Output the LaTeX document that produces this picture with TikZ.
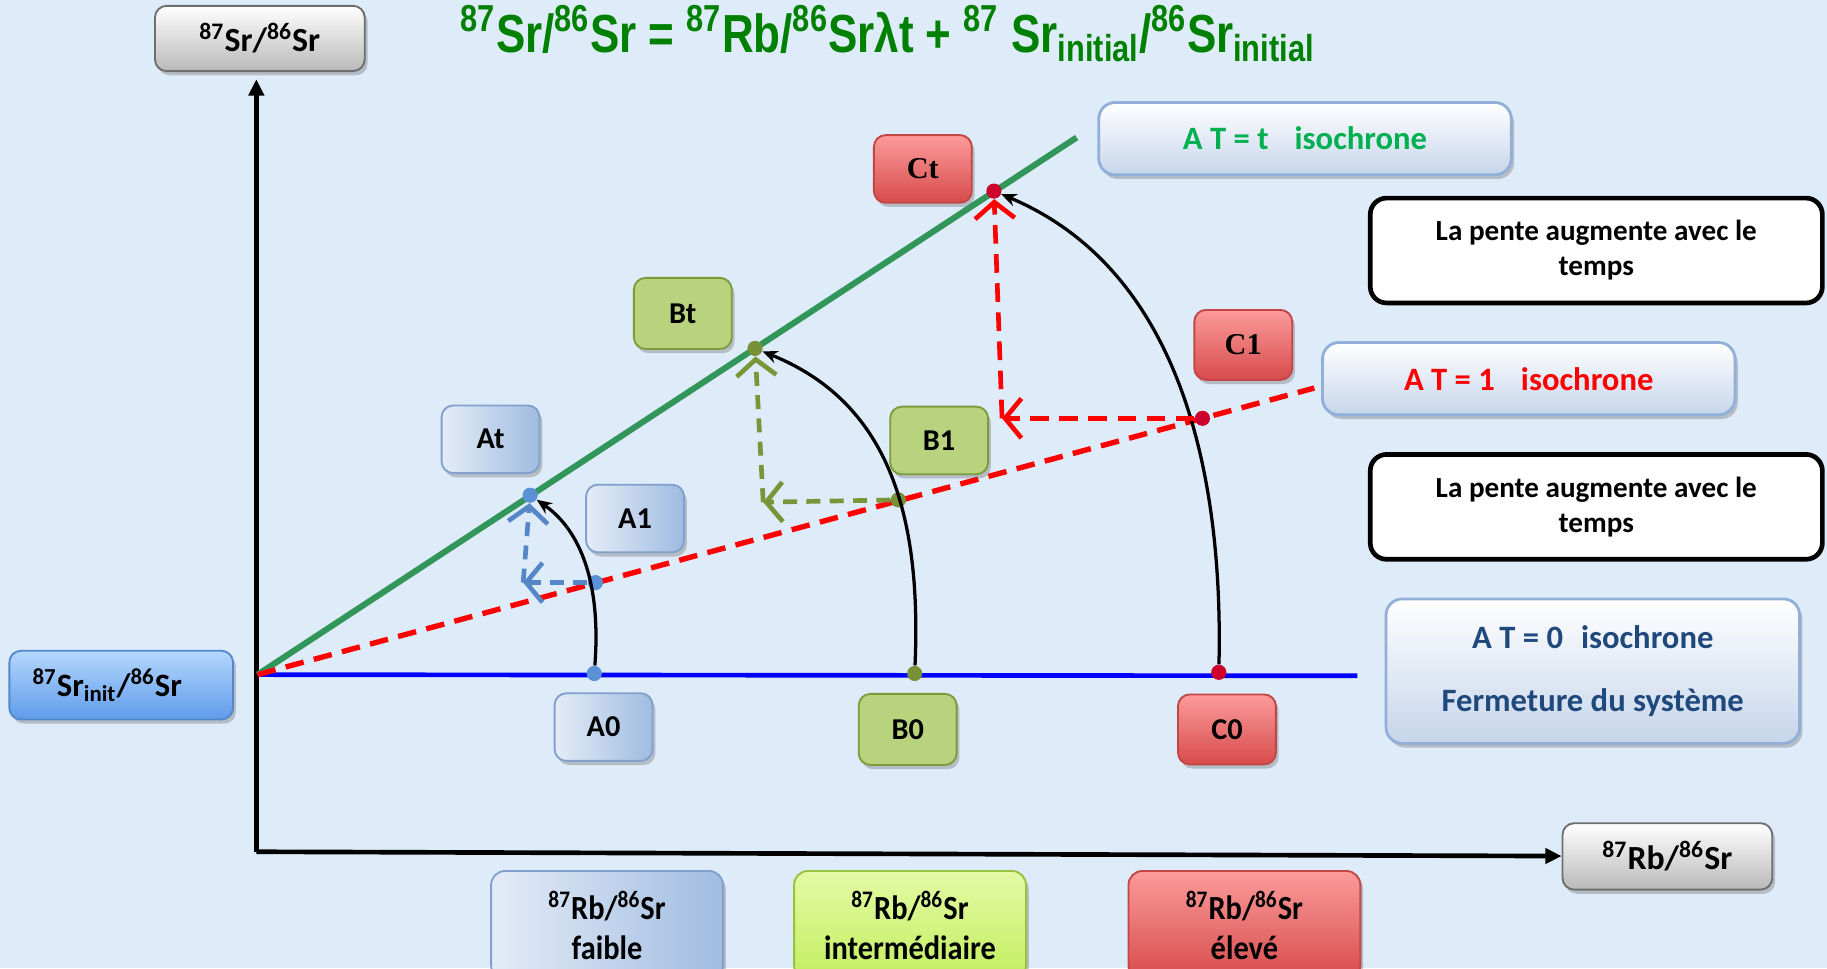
\documentclass[tikz,border=0pt]{standalone}
\usepackage{fontspec}
\setmainfont{Carlito}
\newfontfamily\titrefont[FakeStretch=0.82]{Liberation Sans}
\newfontfamily\etroitfont[FakeStretch=0.9]{Carlito}
\newfontfamily\seriffont{Liberation Serif}
\usepackage{xcolor}
\usetikzlibrary{arrows.meta,shadows}

% couleurs
\definecolor{fond}{RGB}{222,235,248}
\definecolor{grisbord}{RGB}{110,110,110}
\definecolor{grisbas}{RGB}{185,185,185}
\definecolor{bleubord}{RGB}{130,160,205}
\definecolor{bleuclair}{RGB}{228,236,247}
\definecolor{bleufonce}{RGB}{160,188,225}
\definecolor{sinithaut}{RGB}{180,215,252}
\definecolor{sinitbas}{RGB}{95,155,235}
\definecolor{sinitbord}{RGB}{85,135,205}
\definecolor{vertbord}{RGB}{125,155,60}
\definecolor{verthaut}{RGB}{185,210,125}
\definecolor{vertmilieu}{RGB}{155,188,90}
\definecolor{rougebord}{RGB}{195,70,70}
\definecolor{rougehaut}{RGB}{252,155,155}
\definecolor{rougebas}{RGB}{215,75,75}
\definecolor{limebord}{RGB}{150,195,60}
\definecolor{limehaut}{RGB}{228,250,165}
\definecolor{limebas}{RGB}{195,238,95}
\definecolor{isobord}{RGB}{145,175,215}
\definecolor{isobas}{RGB}{198,213,235}
\definecolor{titrevert}{RGB}{0,128,0}
\definecolor{isovert}{RGB}{0,176,80}
\definecolor{isobleu}{RGB}{31,73,125}
\definecolor{ligvert}{RGB}{50,150,90}
\definecolor{ligbleu}{RGB}{0,0,255}
\definecolor{ptbleu}{RGB}{90,145,215}
\definecolor{ptvert}{RGB}{120,145,55}
\definecolor{ptrouge}{RGB}{205,0,45}
\definecolor{projbleu}{RGB}{85,135,200}
\definecolor{projvert}{RGB}{120,150,55}

\begin{document}
\begin{tikzpicture}[x=0.5pt, y=-0.5pt,
        boite/.style={rounded corners=5pt, line width=0.8pt, align=center, inner sep=0pt,
                      font=\bfseries\fontsize{13}{15}\selectfont, minimum width=42pt, minimum height=29pt,
                      drop shadow={shadow xshift=1.2pt, shadow yshift=-1.8pt, fill=black!60, opacity=0.35}},
        grise/.style={boite, draw=grisbord, top color=white, bottom color=grisbas,
                      minimum width=90pt, minimum height=28pt, font=\bfseries\fontsize{14.5}{16}\selectfont},
        bleue/.style={boite, draw=bleubord, left color=bleuclair, right color=bleufonce},
        verte/.style={boite, draw=vertbord, top color=verthaut, middle color=vertmilieu, bottom color=verthaut},
        rouge/.style={boite, draw=rougebord, top color=rougehaut, bottom color=rougebas},
        rapport/.style={rounded corners=6pt, minimum width=99.5pt, minimum height=46.5pt,
                      font=\etroitfont\bfseries\fontsize{14.5}{17}\selectfont},
        iso/.style={boite, rounded corners=7pt, draw=isobord, line width=1.2pt, top color=white,
                      bottom color=isobas, minimum width=177pt, minimum height=31pt,
                      font=\bfseries\fontsize{14}{17}\selectfont},
        pente/.style={rounded corners=7pt, draw, line width=2pt, fill=white, align=center,
                      minimum width=194pt, minimum height=45pt, font=\bfseries\fontsize{12.5}{15}\selectfont},
        pt/.style={circle, inner sep=0pt, minimum size=6.5pt},
        axe/.style={line width=2pt, -{Triangle[length=7pt,width=6.5pt]}},
        evol/.style={line width=1.4pt, -{Stealth[length=6.5pt,width=5.5pt]}},
        proj/.style={line width=2pt, dash pattern=on 6pt off 4pt, -{Straight Barb[length=7pt,width=17pt]}}
    ]
    % cadre et fond
    \useasboundingbox (0,0) rectangle (1568,831);
    \clip (0,0) rectangle (1568,831);
    \fill[fond] (0,0) rectangle (1568,831);

    % titre
    \node[font=\titrefont\bfseries\fontsize{23}{26}\selectfont, text=titrevert, anchor=base, inner sep=0pt] (titre) at (762,45)
        {\textsuperscript{87}Sr/\textsuperscript{86}Sr = \textsuperscript{87}Rb/\textsuperscript{86}Srλt + \textsuperscript{87} Sr\textsubscript{initial}/\textsuperscript{86}Sr\textsubscript{initial}};

    % axes
    \node[grise] (Sy) at (223,33) {\textsuperscript{87}Sr/\textsuperscript{86}Sr};
    \node[grise, minimum height=28.5pt] (Sx) at (1431,735) {\textsuperscript{87}Rb/\textsuperscript{86}Sr};
    \coordinate (O) at (220,731);
    \coordinate (Ytop) at (220,68);
    \draw[axe] (O) -- (Ytop);
    \draw[axe] (O) -- (Sx);

    % rapport initial
    \node[boite, draw=sinitbord, top color=sinithaut, bottom color=sinitbas, minimum width=96pt, minimum height=29.5pt,
          font=\bfseries\fontsize{14}{16}\selectfont] (Sinit) at (104,588)
        {\makebox[76pt][l]{\textsuperscript{87}Sr\textsubscript{init}/\textsuperscript{86}Sr}};

    % isochrones
    \coordinate (S0) at (221,579);
    \coordinate (E0) at (1165,580);
    \coordinate (E1) at (1128,333);
    \coordinate (Et) at (924,118);
    \draw[ligbleu, line width=2pt] (S0) -- (E0);
    \draw[ligvert, line width=2.6pt] (S0) -- (Et);
    \draw[red, line width=2.3pt, dash pattern=on 8pt off 4.5pt] (S0) -- (E1);

    % points des trois echantillons
    \node[pt, fill=ptbleu] (A0) at (510,578) {};
    \node[pt, fill=ptbleu] (A1) at (511,500) {};
    \node[pt, fill=ptbleu] (At) at (455,425) {};
    \node[pt, fill=ptvert] (B0) at (785,578) {};
    \node[pt, fill=ptvert] (B1) at (771,429) {};
    \node[pt, fill=ptvert] (Bt) at (648,299) {};
    \node[pt, fill=ptrouge] (C0) at (1046,577) {};
    \node[pt, fill=ptrouge] (C1) at (1032,359) {};
    \node[pt, fill=ptrouge] (Ct) at (853,164) {};

    % evolution radiogenique (courbes noires)
    \draw[evol] (A0) .. controls (516,500) and (498,455) .. (At);
    \draw[evol] (B0) .. controls (791,440) and (762,345) .. (Bt);
    \draw[evol] (C0) .. controls (1050,400) and (1010,230) .. (Ct);

    % projections en pointille
    \coordinate (cA) at (449,500);
    \coordinate (cB) at (655,431);
    \coordinate (cC) at (860,359);
    \draw[proj, projbleu] (A1) -- (cA);
    \draw[proj, projbleu] (cA) -- (At);
    \draw[proj, projvert] (B1) -- (cB);
    \draw[proj, projvert] (cB) -- (Bt);
    \draw[proj, red, dash pattern=on 8pt off 4.5pt] (C1) -- (cC);
    \draw[proj, red, dash pattern=on 8pt off 4.5pt] (cC) -- (Ct);

    % etiquettes des points
    \node[bleue] (bAt) at (421,377) {At};
    \node[bleue] (bA1) at (545,445) {A1};
    \node[bleue] (bA0) at (518,624) {A0};
    \node[verte, minimum height=30.5pt] (bBt) at (586,269) {Bt};
    \node[verte] (bB1) at (806,378) {B1};
    \node[verte, minimum height=30.5pt] (bB0) at (779,626) {B0};
    \node[rouge, font=\seriffont\bfseries\fontsize{13}{15}\selectfont] (bCt) at (792,145) {Ct};
    \node[rouge, minimum height=30pt, font=\seriffont\bfseries\fontsize{13}{15}\selectfont] (bC1) at (1067,296) {C1};
    \node[rouge, minimum height=30pt] (bC0) at (1053,626) {C0};

    % cadres des isochrones
    \node[iso, text=isovert] (isoT) at (1120,119) {A T = t\hspace{0.8em}isochrone};
    \node[iso, text=red] (isoU) at (1312,325) {A T = 1\hspace{0.8em}isochrone};
    \node[iso, text=isobleu, minimum width=177.5pt, minimum height=62pt] (isoZ) at (1367,576)
        {A T = 0\hspace{0.55em}isochrone\\[10pt]Fermeture du système};

    % commentaires
    \node[pente] (pente1) at (1370,215) {La pente augmente avec le\\temps};
    \node[pente] (pente2) at (1370,435) {La pente augmente avec le\\temps};

    % rapports Rb/Sr en bas
    \node[bleue, rapport] (rbA) at (521,794) {\textsuperscript{87}Rb/\textsuperscript{86}Sr\\faible};
    \node[boite, draw=limebord, top color=limehaut, bottom color=limebas, rapport] (rbB) at (781,794)
        {\textsuperscript{87}Rb/\textsuperscript{86}Sr\\intermédiaire};
    \node[rouge, rapport] (rbC) at (1068,794) {\textsuperscript{87}Rb/\textsuperscript{86}Sr\\élevé};
\end{tikzpicture}
\end{document}
